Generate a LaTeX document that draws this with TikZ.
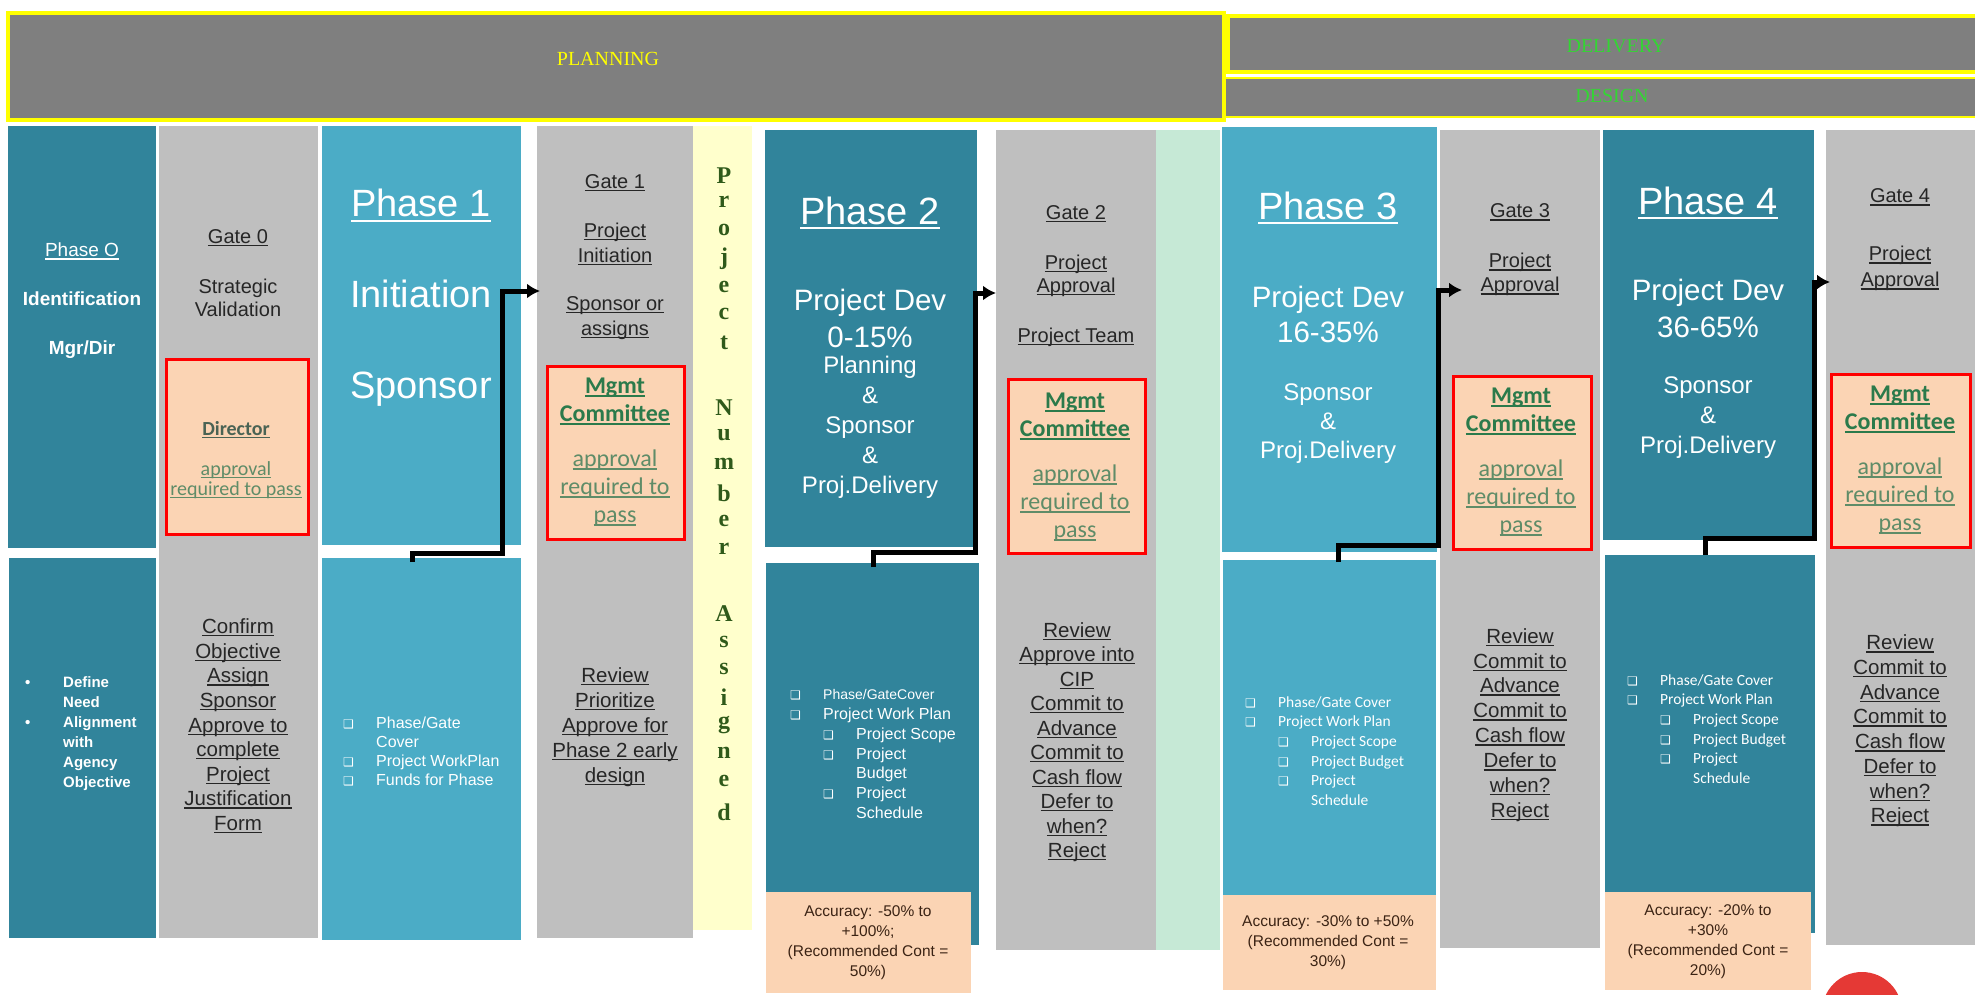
\documentclass[tikz,border=0pt]{standalone}
\usepackage{fontspec}
\setmainfont{Liberation Sans}
\newfontfamily\calfont{Carlito}
\newfontfamily\serfont{Liberation Serif}
\newfontfamily\symfont{DejaVu Sans}
\usetikzlibrary{arrows.meta}

\definecolor{tealdk}{HTML}{31849B}
\definecolor{teallt}{HTML}{4BACC6}
\definecolor{gatebg}{HTML}{BFBFBF}
\definecolor{hdrbg}{HTML}{7F7F7F}
\definecolor{hdrline}{HTML}{FFFF00}
\definecolor{hdrgreen}{HTML}{33D633}
\definecolor{peach}{HTML}{FBD4B4}
\definecolor{pnbg}{HTML}{FFFFCC}
\definecolor{mint}{HTML}{C6E9D6}
\definecolor{mgmtgreen}{HTML}{2B7A4B}
\definecolor{apprgreen}{HTML}{5F8C68}
\definecolor{dirgray}{HTML}{4A6354}
\definecolor{pngreen}{HTML}{2F5A1A}
\definecolor{accbrown}{HTML}{3B2314}
\definecolor{gatetxt}{HTML}{262626}
\definecolor{redcirc}{HTML}{E53935}

\newcommand{\fsz}[2]{\fontsize{#1}{#2}\selectfont}
\newsavebox\ulbox
\newcommand{\ul}[1]{\sbox\ulbox{#1}\rlap{\rule[-0.14em]{\wd\ulbox}{0.065em}}\usebox\ulbox}
\newcommand{\cb}{\makebox[33pt][l]{\symfont\fsz{12}{12}❑}}
\newcommand{\mgmttext}{\textcolor{mgmtgreen}{\textbf{\ul{Mgmt}}}\\\textcolor{mgmtgreen}{\textbf{\ul{Committee}}}\\[17pt]\textcolor{apprgreen}{\ul{approval}}\\\textcolor{apprgreen}{\ul{required to}}\\\textcolor{apprgreen}{\ul{pass}}}

\begin{document}
\begin{tikzpicture}[x=1pt,y=-1pt]
  \tikzstyle{blk}=[rectangle,inner sep=0pt,anchor=north west]
  \tikzstyle{hdr}=[blk,fill=hdrbg,draw=hdrline,line width=4pt]
  \tikzstyle{redbox}=[blk,fill=peach,draw=red,line width=3pt]
  \tikzstyle{txt}=[inner sep=0pt,align=center]
  \tikzstyle{hdrtxt}=[txt,font=\serfont\fsz{20}{22}]
  \tikzstyle{phbig}=[txt,text=white,font=\fsz{38}{91}]
  \tikzstyle{gtxt}=[txt,text=gatetxt,font=\fsz{20.5}{24.6}]
  \tikzstyle{mgmt}=[txt,font=\calfont\fsz{24}{28}]
  \tikzstyle{lst}=[inner sep=0pt,align=left,anchor=west,text=white]
  \tikzstyle{acc}=[txt,text=accbrown,font=\fsz{15.5}{20}]
  \tikzstyle{pnum}=[inner sep=0pt,text=pngreen,font=\serfont\bfseries\fsz{24}{24}]
  \tikzstyle{flow}=[line width=5pt,-{Latex[length=13pt,width=15pt]}]

  \useasboundingbox (0,0) rectangle (1975,995);
  \fill[white] (0,0) rectangle (1975,995);

  \node[hdr,minimum width=1216,minimum height=107] (plan) at (6,11) {};
  \node[hdr,minimum width=752,minimum height=56] (deliv) at (1226,14) {};
  \node[hdr,line width=2pt,minimum width=752,minimum height=39] (design) at (1224,77) {};
  \node[hdrtxt,text=hdrline] (plantxt) at (608,59) {PLANNING};
  \node[hdrtxt,text=hdrgreen] (delivtxt) at (1616,46) {DELIVERY};
  \node[hdrtxt,text=hdrgreen] (designtxt) at (1612,96) {DESIGN};

  \node[blk,fill=tealdk,minimum width=148,minimum height=422] (p0t) at (8,126) {};
  \node[blk,fill=tealdk,minimum width=147,minimum height=380] (p0b) at (9,558) {};
  \node[blk,fill=gatebg,minimum width=159,minimum height=812] (g0) at (159,126) {};
  \node[redbox,minimum width=142,minimum height=175] (r0) at (165,358) {};
  \node[blk,fill=teallt,minimum width=199,minimum height=419] (p1t) at (322,126) {};
  \node[blk,fill=teallt,minimum width=199,minimum height=382] (p1b) at (322,558) {};
  \node[blk,fill=gatebg,minimum width=156,minimum height=812] (g1) at (537,126) {};
  \node[redbox,minimum width=137,minimum height=173] (r1) at (546,365) {};
  \node[blk,fill=pnbg,minimum width=59,minimum height=804] (pn) at (693,126) {};
  \node[blk,fill=tealdk,minimum width=212,minimum height=417] (p2t) at (765,130) {};
  \node[blk,fill=tealdk,minimum width=213,minimum height=382] (p2b) at (766,563) {};
  \node[blk,fill=peach,minimum width=205,minimum height=101] (a2) at (766,892) {};
  \node[blk,fill=gatebg,minimum width=160,minimum height=820] (g2) at (996,130) {};
  \node[redbox,minimum width=137,minimum height=174] (r2) at (1007,378) {};
  \node[blk,fill=mint,minimum width=64,minimum height=820] (mnt) at (1156,130) {};
  \node[blk,fill=teallt,minimum width=215,minimum height=425] (p3t) at (1222,127) {};
  \node[blk,fill=teallt,minimum width=213,minimum height=335] (p3b) at (1223,560) {};
  \node[blk,fill=peach,minimum width=213,minimum height=95] (a3) at (1223,895) {};
  \node[blk,fill=gatebg,minimum width=160,minimum height=818] (g3) at (1440,130) {};
  \node[redbox,minimum width=138,minimum height=173] (r3) at (1452,375) {};
  \node[blk,fill=tealdk,minimum width=211,minimum height=410] (p4t) at (1603,130) {};
  \node[blk,fill=tealdk,minimum width=210,minimum height=378] (p4b) at (1605,555) {};
  \node[blk,fill=peach,minimum width=206,minimum height=98] (a4) at (1605,892) {};
  \node[blk,fill=gatebg,minimum width=149,minimum height=815] (g4) at (1826,130) {};
  \node[redbox,minimum width=139,minimum height=173] (r4) at (1830,373) {};

  \node[txt,text=white,font=\fsz{19}{49}] (p0txt) at (82,301) {\ul{Phase O}\\\textbf{Identification}\\\textbf{Mgr/Dir}};
  \node[gtxt,font=\fsz{20}{23}] (g0txt) at (238,273) {\ul{Gate 0}\\[27pt]Strategic\\Validation};
  \node[txt,font=\calfont\fsz{20}{20}] (r0txt) at (236,460) {\textcolor{dirgray}{\textbf{\ul{Director}}}\\[20pt]\textcolor{apprgreen}{\ul{approval}}\\\textcolor{apprgreen}{\ul{required to pass}}};
  \node[phbig] (p1txt) at (421,298) {\ul{Phase 1}\\Initiation\\Sponsor};
  \node[gtxt,font=\fsz{20}{25}] (g1txt) at (615,257) {\ul{Gate 1}\\[24pt]\ul{Project}\\\ul{Initiation}\\[23pt]\ul{Sponsor or}\\\ul{assigns}};
  \node[mgmt] (r1txt) at (615,452) {\mgmttext};

  \node[phbig] (p2ttl) at (870,213) {\ul{Phase 2}};
  \node[txt,text=white,font=\fsz{29.5}{37}] (p2dev) at (870,318) {Project Dev\\0-15\%};
  \node[txt,text=white,font=\fsz{24}{30}] (p2who) at (870,427) {Planning\\\&\\Sponsor\\\&\\Proj.Delivery};
  \node[gtxt,font=\fsz{20}{23}] (g2txt) at (1076,276) {\ul{Gate 2}\\[27pt]\ul{Project}\\\ul{Approval}\\[27pt]\ul{Project Team}};
  \node[mgmt] (r2txt) at (1075,467) {\mgmttext};

  \node[phbig] (p3ttl) at (1328,208) {\ul{Phase 3}};
  \node[txt,text=white,font=\fsz{29.5}{35}] (p3dev) at (1328,314) {Project Dev\\16-35\%};
  \node[txt,text=white,font=\fsz{24}{29}] (p3who) at (1328,424) {Sponsor\\\&\\Proj.Delivery};
  \node[gtxt,font=\fsz{20}{24}] (g3txt) at (1520,250) {\ul{Gate 3}\\[26pt]\ul{Project}\\\ul{Approval}};
  \node[mgmt] (r3txt) at (1521,462) {\mgmttext};

  \node[phbig] (p4ttl) at (1708,203) {\ul{Phase 4}};
  \node[txt,text=white,font=\fsz{29.5}{37}] (p4dev) at (1708,308) {Project Dev\\36-65\%};
  \node[txt,text=white,font=\fsz{24}{30}] (p4who) at (1708,418) {Sponsor\\\&\\Proj.Delivery};
  \node[gtxt,font=\fsz{20}{26}] (g4txt) at (1900,240) {\ul{Gate 4}\\[32pt]\ul{Project}\\\ul{Approval}};
  \node[mgmt] (r4txt) at (1900,460) {\mgmttext};

  \foreach \ch/\yy in {P/176,r/202,o/230,j/259,e/287,c/314,t/343,N/408,u/435,m/464,b/493,e/521,r/549,A/614,s/642,s/669,i/697,g/725,n/753,e/781,d/812}
    \node[pnum] (pn-\yy) at (724,\yy) {\ch};

  \node[lst,font=\bfseries\fsz{15}{20}] (p0lst) at (25,734) {\makebox[38pt][l]{•}Define\\\hspace*{38pt}Need\\\makebox[38pt][l]{•}Alignment\\\hspace*{38pt}with\\\hspace*{38pt}Agency\\\hspace*{38pt}Objective};
  \node[gtxt] (g0lst) at (238,726) {\ul{Confirm}\\\ul{Objective}\\\ul{Assign}\\\ul{Sponsor}\\\ul{Approve to}\\\ul{complete}\\\ul{Project}\\\ul{Justification}\\\ul{Form}};
  \node[lst,font=\fsz{16}{19}] (p1lst) at (343,751) {\cb Phase/Gate\\\hspace*{33pt}Cover\\\cb Project WorkPlan\\\cb Funds for Phase};
  \node[gtxt,font=\fsz{20.5}{25}] (g1lst) at (615,727) {\ul{Review}\\\ul{Prioritize}\\\ul{Approve for}\\\ul{Phase 2 early}\\\ul{design}};
  \node[lst,font=\fsz{16}{19.7}] (p2lst) at (790,754) {\cb{\fsz{14}{19.7}Phase/GateCover}\\\cb Project Work Plan\\\hspace*{33pt}\cb Project Scope\\\hspace*{33pt}\cb Project\\\hspace*{66pt}Budget\\\hspace*{33pt}\cb Project\\\hspace*{66pt}Schedule};
  \node[acc] (a2txt) at (868,943) {Accuracy: -50\% to\\+100\%;\\(Recommended Cont =\\50\%)};
  \node[gtxt,font=\fsz{20.5}{24.5}] (g2lst) at (1077,742) {\ul{Review}\\\ul{Approve into}\\\ul{CIP}\\\ul{Commit to}\\\ul{Advance}\\\ul{Commit to}\\\ul{Cash flow}\\\ul{Defer to}\\\ul{when?}\\\ul{Reject}};
  \node[lst,font=\calfont\fsz{15.5}{19.6}] (p3lst) at (1245,751) {\cb Phase/Gate Cover\\\cb Project Work Plan\\\hspace*{33pt}\cb Project Scope\\\hspace*{33pt}\cb Project Budget\\\hspace*{33pt}\cb Project\\\hspace*{66pt}Schedule};
  \node[acc] (a3txt) at (1328,943) {Accuracy: -30\% to +50\%\\(Recommended Cont =\\30\%)};
  \node[gtxt,font=\fsz{20.5}{24.9}] (g3lst) at (1520,725) {\ul{Review}\\\ul{Commit to}\\\ul{Advance}\\\ul{Commit to}\\\ul{Cash flow}\\\ul{Defer to}\\\ul{when?}\\\ul{Reject}};
  \node[lst,font=\calfont\fsz{15.5}{19.6}] (p4lst) at (1627,729) {\cb Phase/Gate Cover\\\cb Project Work Plan\\\hspace*{33pt}\cb Project Scope\\\hspace*{33pt}\cb Project Budget\\\hspace*{33pt}\cb Project\\\hspace*{66pt}Schedule};
  \node[acc] (a4txt) at (1708,942) {Accuracy: -20\% to\\+30\%\\(Recommended Cont =\\20\%)};
  \node[gtxt,font=\fsz{20.5}{24.7}] (g4lst) at (1900,731) {\ul{Review}\\\ul{Commit to}\\\ul{Advance}\\\ul{Commit to}\\\ul{Cash flow}\\\ul{Defer to}\\\ul{when?}\\\ul{Reject}};

  \coordinate (s1) at (412,562);
  \coordinate (e1) at (540,291);
  \coordinate (s2) at (873,567);
  \coordinate (e2) at (996,293);
  \coordinate (s3) at (1338,562);
  \coordinate (e3) at (1462,290);
  \coordinate (s4) at (1705,555);
  \coordinate (e4) at (1830,282);
  \draw[flow] (s1) -- ++(0,-9) -| (502,291) -- (e1);
  \draw[flow] (s2) -- ++(0,-15) -| (975,293) -- (e2);
  \draw[flow] (s3) -- ++(0,-17) -| (1438,290) -- (e3);
  \draw[flow] (s4) -- ++(0,-17) -| (1814,282) -- (e4);

  \fill[redcirc] (1862,1012) circle (40pt);
\end{tikzpicture}
\end{document}
